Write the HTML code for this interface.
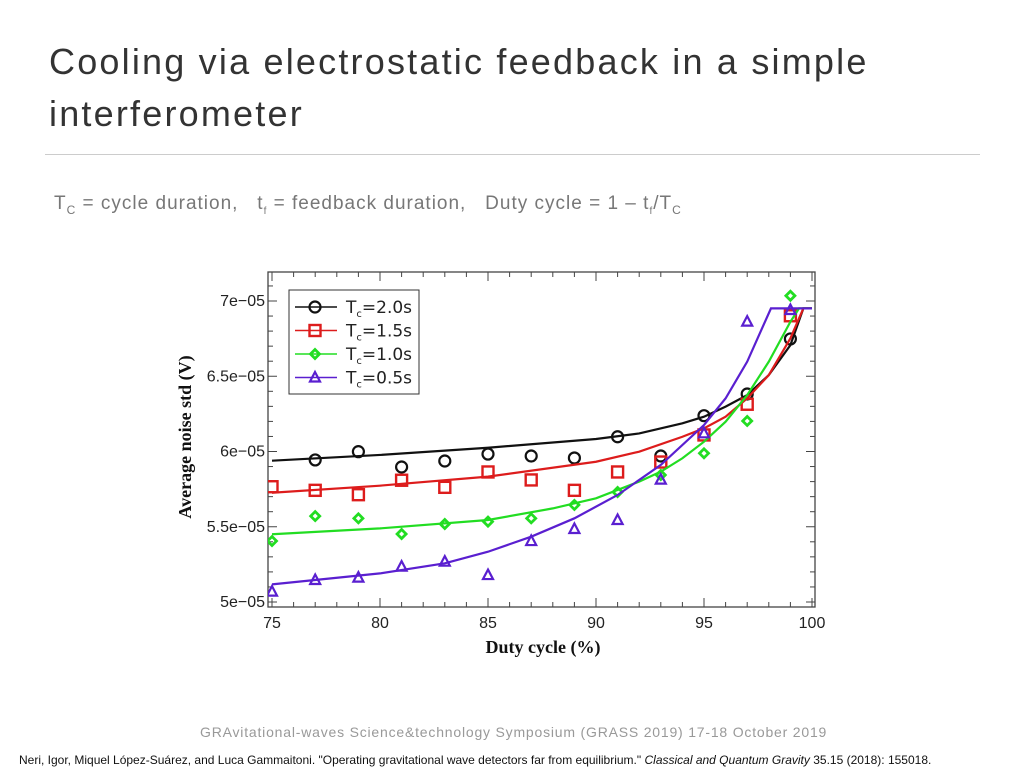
<!DOCTYPE html>
<html><head><meta charset="utf-8"><style>
body{margin:0;width:1024px;height:768px;background:#fff;position:relative;overflow:hidden;font-family:"Liberation Sans",sans-serif}
.t{position:absolute;white-space:nowrap}
</style></head><body>
<div class="t" style="left:49px;top:36px;font-size:36px;line-height:52px;color:#333;letter-spacing:2.2px">Cooling via electrostatic feedback in a simple<br>interferometer</div>
<div style="position:absolute;left:45px;top:154px;width:935px;height:1px;background:#ccc"></div>
<div class="t" style="left:54px;top:193px;font-size:19px;color:#777;letter-spacing:1px">T<sub style="font-size:12px">C</sub> = cycle duration,&nbsp;&nbsp; t<sub style="font-size:10px">f</sub> = feedback duration,&nbsp;&nbsp; Duty cycle = 1 – t<sub style="font-size:10px">f</sub>/T<sub style="font-size:12px">C</sub></div>
<svg id="chart" style="position:absolute;left:0;top:0" width="1024" height="768"></svg>
<div class="t" style="left:200px;top:724px;font-size:14px;color:#999;letter-spacing:0.8px">GRAvitational-waves Science&amp;technology Symposium (GRASS 2019) 17-18 October 2019</div>
<div class="t" style="left:19px;top:753px;font-size:12px;color:#111">Neri, Igor, Miquel López-Suárez, and Luca Gammaitoni. "Operating gravitational wave detectors far from equilibrium." <i>Classical and Quantum Gravity</i> 35.15 (2018): 155018.</div>
<script>
const xTicks=[75,80,85,90,95,100];
const yTicks=[5,5.5,6,6.5,7];
const yTickLabels=["5e−05","5.5e−05","6e−05","6.5e−05","7e−05"];
const duty=[75,77,79,81,83,85,87,89,91,93,95,97,99];
const tc20=[null,5.944,5.999,5.897,5.937,5.983,5.970,5.957,6.098,5.970,6.238,6.382,6.748];
const tc15=[5.766,5.742,5.713,5.809,5.762,5.864,5.811,5.742,5.864,5.930,6.110,6.314,6.902];
const tc10=[5.405,5.571,5.556,5.452,5.518,5.534,5.556,5.645,5.731,5.844,5.988,6.203,7.035];
const tc05=[5.069,5.146,5.162,5.235,5.268,5.179,5.405,5.485,5.545,5.813,6.121,6.863,6.940];
const fit20X=[75,80,85,90,92,94,95,96,97,98,99,99.6,100];
const fit20Y=[5.939,5.977,6.025,6.083,6.120,6.187,6.231,6.298,6.375,6.508,6.707,6.951,6.951];
const fit15X=[75,80,85,90,92,94,95,96,97,98,99,99.6,100];
const fit15Y=[5.726,5.773,5.833,5.932,5.999,6.098,6.154,6.231,6.353,6.508,6.752,6.951,6.951];
const fit10X=[75,80,85,88,90,92,93,94,95,96,97,98,99,99.4,100];
const fit10Y=[5.450,5.489,5.545,5.622,5.689,5.800,5.866,5.955,6.065,6.198,6.375,6.597,6.862,6.951,6.951];
const fit05X=[75,80,83,85,87,89,91,93,95,96,97,98.1,100];
const fit05Y=[5.117,5.190,5.257,5.334,5.434,5.556,5.711,5.911,6.176,6.353,6.597,6.951,6.951];

const NS="http://www.w3.org/2000/svg";
const svg=document.getElementById('chart');
const X=v=>272+(v-75)*21.6;
const Y=v=>602-(v-5)*150.5;
function el(t,a,p){const e=document.createElementNS(NS,t);for(const k in a)e.setAttribute(k,a[k]);(p||svg).appendChild(e);return e;}
const fr=el('rect',{x:268,y:272,width:547,height:335,fill:'none',stroke:'#444','stroke-width':1.3});


for(let v=75;v<=100;v++){const maj=v%5===0,l=maj?9:5;
 el('line',{x1:X(v),x2:X(v),y1:607,y2:607-l,stroke:'#444'});
 el('line',{x1:X(v),x2:X(v),y1:272,y2:272+l,stroke:'#444'});}
for(let i=0;i<=22;i++){const vv=Math.round((4.97+i*0.1)*10)/10;if(vv<4.97)continue;const yy=Y(vv);if(yy<272||yy>607)continue;const maj=Math.abs(vv*2-Math.round(vv*2))<1e-6,l=maj?9:5;
 el('line',{x1:268,x2:268+l,y1:yy,y2:yy,stroke:'#444'});
 el('line',{x1:815,x2:815-l,y1:yy,y2:yy,stroke:'#444'});}
xTicks.forEach(v=>{const t=el('text',{x:X(v),y:628,'text-anchor':'middle','font-size':16,fill:'#222','font-family':'Liberation Sans,sans-serif'});t.textContent=v;
 
 });
yTicks.forEach((v,i)=>{const t=el('text',{x:265,y:Y(v)+5,'text-anchor':'end','font-size':16,fill:'#222','font-family':'Liberation Sans,sans-serif'});t.textContent=yTickLabels[i];
 
 });
const xl=el('text',{x:543,y:653,'text-anchor':'middle','font-size':18,'font-weight':'bold','font-family':'Liberation Serif,serif',fill:'#111'});xl.textContent='Duty cycle (%)';


const yl=el('text',{x:0,y:0,'text-anchor':'middle','font-size':18,'font-weight':'bold','font-family':'Liberation Serif,serif',fill:'#111',transform:'translate(191,437) rotate(-90)'});yl.textContent='Average noise std (V)';


const series=[
 {name:'tc-2.0s',c:'#111',d:tc20,fx:fit20X,fy:fit20Y,m:'circle',lab:'2.0s'},
 {name:'tc-1.5s',c:'#dd1c1c',d:tc15,fx:fit15X,fy:fit15Y,m:'square',lab:'1.5s'},
 {name:'tc-1.0s',c:'#22dd22',d:tc10,fx:fit10X,fy:fit10Y,m:'diamond',lab:'1.0s'},
 {name:'tc-0.5s',c:'#5a1fd0',d:tc05,fx:fit05X,fy:fit05Y,m:'triangle',lab:'0.5s'}];
function marker(m,x,y,c,g){
 if(m==='circle')return el('circle',{cx:x,cy:y,r:5.5,fill:'none',stroke:c,'stroke-width':2.2},g);
 if(m==='square')return el('rect',{x:x-5.5,y:y-5.5,width:11,height:11,fill:'none',stroke:c,'stroke-width':2.4},g);
 if(m==='diamond')return el('path',{d:`M${x} ${y-4.5}L${x+4.5} ${y}L${x} ${y+4.5}L${x-4.5} ${y}Z`,fill:'none',stroke:c,'stroke-width':2.8},g);
 return el('path',{d:`M${x} ${y-5.5}L${x+5} ${y+4}L${x-5} ${y+4}Z`,fill:'none',stroke:c,'stroke-width':2.2},g);}
const clip=el('clipPath',{id:'pc'});el('rect',{x:268,y:272,width:547,height:335},clip);
series.forEach(s=>{
 const g=el('g',{'clip-path':'url(#pc)'});
 
 
 const p=el('polyline',{points:s.fx.map((x,i)=>X(x)+','+Y(s.fy[i])).join(' '),fill:'none',stroke:s.c,'stroke-width':2.2},g);
 
 
 duty.forEach((x,i)=>{if(s.d[i]==null)return;const mk=marker(s.m,X(x),Y(s.d[i]),s.c,g);
  
  });
});
const lg=el('g',{});


el('rect',{x:289,y:290,width:130,height:104,fill:'#fff',stroke:'#333','stroke-width':1},lg);
series.forEach((s,i)=>{const y=307+i*23.5;
 const e=el('g',{},lg);
 
 
 el('line',{x1:295,x2:337,y1:y,y2:y,stroke:s.c,'stroke-width':1.5},e);
 marker(s.m,315,y,s.c,e);
 const t=el('text',{x:346,y:y+6,'font-size':17,fill:'#222','font-family':'DejaVu Sans,sans-serif'},e);
 t.innerHTML='T<tspan font-size="10" dy="4">c</tspan><tspan dy="-4">='+s.lab+'</tspan>';});
</script>
</body></html>
